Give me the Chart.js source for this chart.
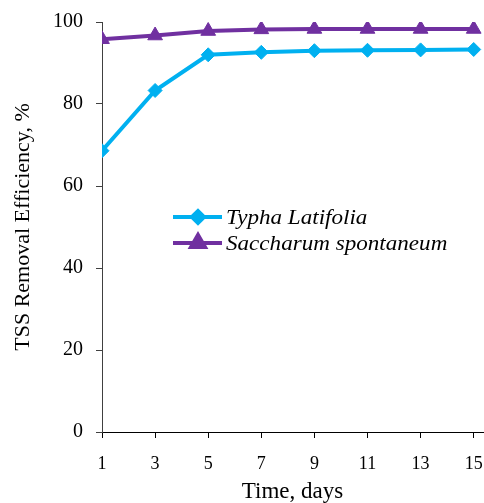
<!DOCTYPE html>
<html>
<head>
<meta charset="utf-8">
<script src="https://cdn.jsdelivr.net/npm/chart.js@4.4.1/dist/chart.umd.min.js"></script>
<style>
  html, body { margin: 0; padding: 0; background: #fff; }
  #wrap { width: 484px; height: 503px; position: relative; }
</style>
</head>
<body>
<div id="wrap"><canvas id="c" width="484" height="503"></canvas></div>
<script>
// Sampling days
const days = [1, 3, 5, 7, 9, 11, 13, 15];
// TSS removal efficiency (%) for each plant
const typhaLatifolia = [68.6, 83.3, 92.0, 92.6, 93.0, 93.1, 93.2, 93.3];
const saccharumSpontaneum = [95.8, 96.7, 97.8, 98.2, 98.3, 98.3, 98.3, 98.3];
// Axis ticks
const yTicks = [0, 20, 40, 60, 80, 100];
const xTicks = days;

const serif = "'Liberation Serif', 'Times New Roman', serif";
const cyan = '#00b0f0';
const purple = '#7030a0';

const toPoints = (vals) => days.map((d, i) => ({ x: d, y: vals[i] }));

// Legend drawn inside the plot area
const innerLegend = {
  id: 'innerLegend',
  afterDatasetsDraw(chart) {
    const ctx = chart.ctx;
    const rows = [
      { ds: chart.data.datasets[0], y: 217 },
      { ds: chart.data.datasets[1], y: 243 }
    ];
    ctx.save();
    rows.forEach(r => {
      ctx.strokeStyle = r.ds.borderColor;
      ctx.lineWidth = r.ds.borderWidth;
      ctx.beginPath();
      ctx.moveTo(173, r.y);
      ctx.lineTo(222, r.y);
      ctx.stroke();
      ctx.fillStyle = r.ds.pointBackgroundColor;
      ctx.strokeStyle = r.ds.pointBorderColor;
      Chart.helpers.drawPoint(ctx, {
        pointStyle: r.ds.pointStyle,
        radius: r.ds.legendRadius,
        borderWidth: 1,
        rotation: 0
      }, 198, r.y);
      // slightly widened italic label
      ctx.save();
      ctx.translate(226, r.y + 1);
      ctx.scale(1.1, 1);
      ctx.fillStyle = '#000';
      ctx.font = "italic 21px " + serif;
      ctx.textBaseline = 'middle';
      ctx.textAlign = 'left';
      ctx.fillText(r.ds.label, 0, 0);
      ctx.restore();
    });
    ctx.restore();
  }
};

new Chart(document.getElementById('c'), {
  type: 'line',
  data: {
    datasets: [
      {
        label: 'Typha Latifolia',
        data: toPoints(typhaLatifolia),
        borderColor: cyan,
        backgroundColor: cyan,
        borderWidth: 4,
        pointStyle: 'rectRot',
        pointRadius: 7,
        legendRadius: 6,
        pointBackgroundColor: cyan,
        pointBorderColor: cyan,
        pointBorderWidth: 1,
        tension: 0
      },
      {
        label: 'Saccharum spontaneum',
        data: toPoints(saccharumSpontaneum),
        borderColor: purple,
        backgroundColor: purple,
        borderWidth: 4,
        pointStyle: 'triangle',
        pointRadius: 8.5,
        legendRadius: 8,
        pointBackgroundColor: purple,
        pointBorderColor: purple,
        pointBorderWidth: 1,
        tension: 0
      }
    ]
  },
  options: {
    responsive: false,
    animation: false,
    devicePixelRatio: 1,
    layout: { autoPadding: false, padding: { left: 10, top: 22, right: 1, bottom: 0 } },
    plugins: {
      legend: { display: false },
      tooltip: { enabled: false }
    },
    scales: {
      x: {
        type: 'linear',
        min: 1,
        max: 15.35,
        afterBuildTicks(scale) { scale.ticks = xTicks.map(v => ({ value: v })); },
        afterFit(scale) {
          scale.height = 71;
          scale.paddingLeft = 0;
          scale.paddingRight = 0;
        },
        ticks: {
          color: '#000',
          font: { family: serif, size: 18 },
          padding: 15,
          maxRotation: 0,
          autoSkip: false
        },
        grid: {
          drawOnChartArea: false,
          drawTicks: true,
          tickLength: 6,
          color: '#000',
          lineWidth: 1
        },
        border: { display: true, color: '#000', width: 1 },
        title: {
          display: true,
          text: 'Time, days',
          color: '#000',
          padding: 0,
          font: { family: serif, size: 23, lineHeight: 1.0 }
        }
      },
      y: {
        type: 'linear',
        min: 0,
        max: 100,
        afterBuildTicks(scale) { scale.ticks = yTicks.map(v => ({ value: v })); },
        afterFit(scale) {
          scale.width = 92;
          scale.paddingTop = 0;
          scale.paddingBottom = 0;
        },
        ticks: {
          color: '#000',
          font: { family: serif, size: 20 },
          padding: 13
        },
        grid: {
          drawOnChartArea: false,
          drawTicks: true,
          tickLength: 6,
          color: '#404040',
          lineWidth: 1
        },
        border: { display: true, color: '#404040', width: 1 },
        title: {
          display: true,
          text: 'TSS Removal Efficiency, %',
          color: '#000',
          padding: 0,
          font: { family: serif, size: 22, lineHeight: 1.2 }
        }
      }
    }
  },
  plugins: [innerLegend]
});
</script>
</body>
</html>
